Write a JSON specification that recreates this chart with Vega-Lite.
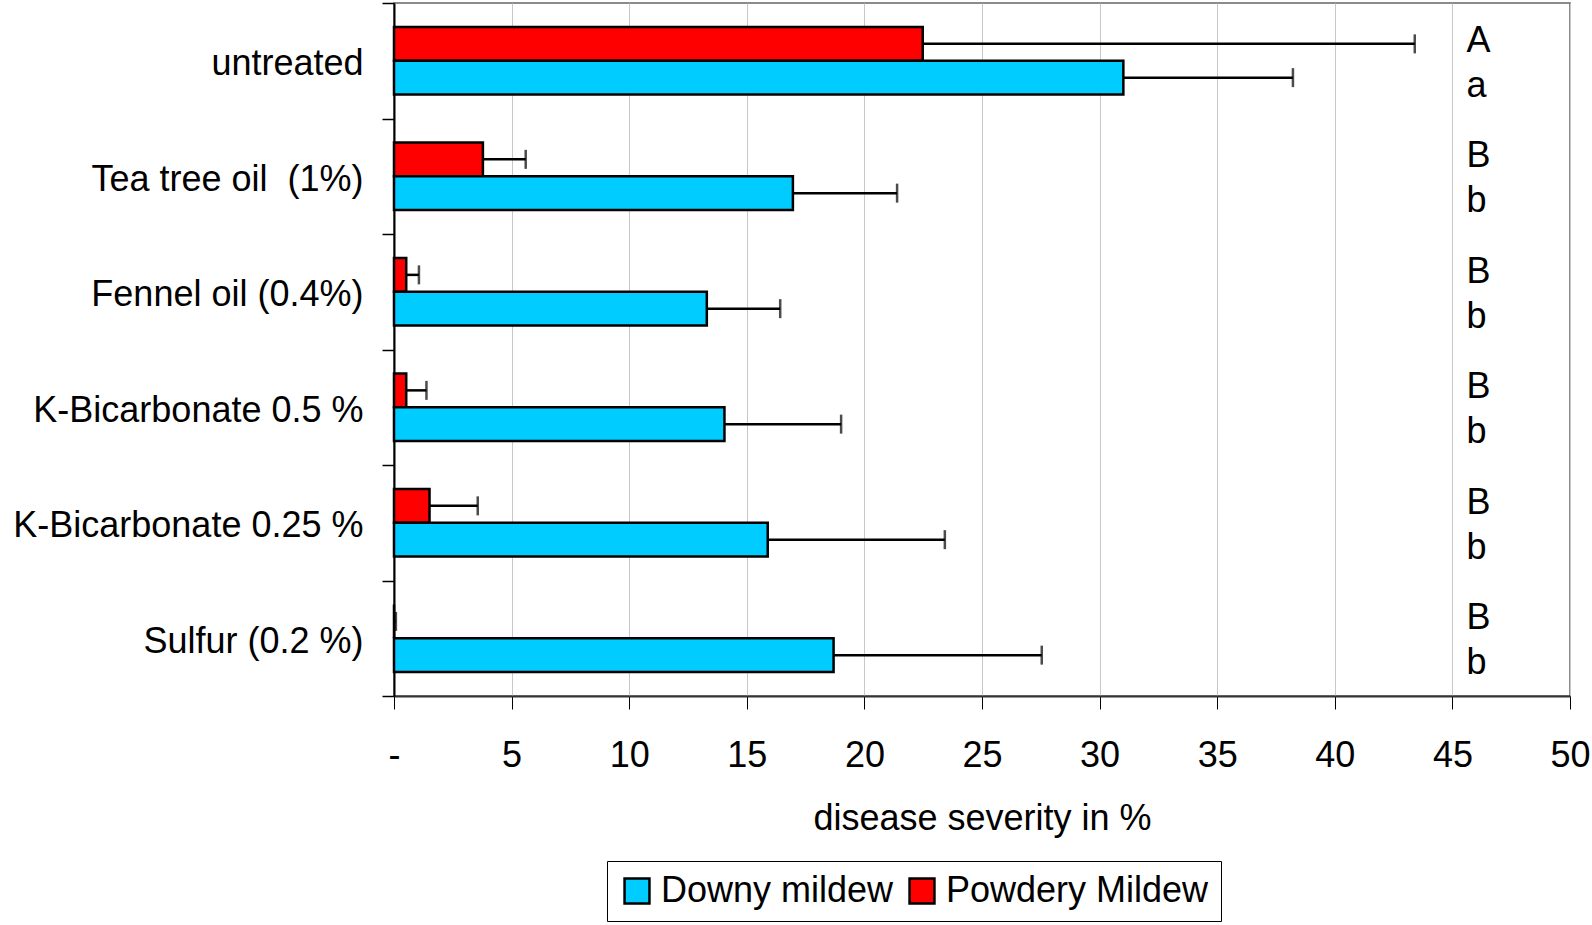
{
  "$schema": "https://vega.github.io/schema/vega-lite/v6.json",
  "width": 1176,
  "height": 693,
  "autosize": {"type": "none"},
  "padding": {"left": 394, "top": 3, "right": 22, "bottom": 229},
  "config": {
    "font": "Liberation Sans",
    "view": {"stroke": "#666", "strokeWidth": 1.5}
  },
  "datasets": {
    "bars": [
      {"treatment": "untreated", "disease": "Powdery Mildew", "severity": 22.48, "upper": 43.4},
      {"treatment": "untreated", "disease": "Downy mildew", "severity": 31.01, "upper": 38.22},
      {"treatment": "Tea tree oil \u00a0(1%)", "disease": "Powdery Mildew", "severity": 3.78, "upper": 5.6},
      {"treatment": "Tea tree oil \u00a0(1%)", "disease": "Downy mildew", "severity": 16.96, "upper": 21.39},
      {"treatment": "Fennel oil (0.4%)", "disease": "Powdery Mildew", "severity": 0.52, "upper": 1.06},
      {"treatment": "Fennel oil (0.4%)", "disease": "Downy mildew", "severity": 13.3, "upper": 16.42},
      {"treatment": "K-Bicarbonate 0.5 %", "disease": "Powdery Mildew", "severity": 0.52, "upper": 1.38},
      {"treatment": "K-Bicarbonate 0.5 %", "disease": "Downy mildew", "severity": 14.05, "upper": 19.01},
      {"treatment": "K-Bicarbonate 0.25 %", "disease": "Powdery Mildew", "severity": 1.51, "upper": 3.56},
      {"treatment": "K-Bicarbonate 0.25 %", "disease": "Downy mildew", "severity": 15.89, "upper": 23.42},
      {"treatment": "Sulfur (0.2 %)", "disease": "Powdery Mildew", "severity": 0, "upper": 0.08},
      {"treatment": "Sulfur (0.2 %)", "disease": "Downy mildew", "severity": 18.69, "upper": 27.54}
    ],
    "letters": [
      {"treatment": "untreated", "letters": ["A", "a"]},
      {"treatment": "Tea tree oil \u00a0(1%)", "letters": ["B", "b"]},
      {"treatment": "Fennel oil (0.4%)", "letters": ["B", "b"]},
      {"treatment": "K-Bicarbonate 0.5 %", "letters": ["B", "b"]},
      {"treatment": "K-Bicarbonate 0.25 %", "letters": ["B", "b"]},
      {"treatment": "Sulfur (0.2 %)", "letters": ["B", "b"]}
    ]
  },
  "encoding": {
    "y": {
      "field": "treatment",
      "type": "nominal",
      "sort": ["untreated", "Tea tree oil \u00a0(1%)", "Fennel oil (0.4%)", "K-Bicarbonate 0.5 %", "K-Bicarbonate 0.25 %", "Sulfur (0.2 %)"],
      "scale": {"paddingInner": 0, "paddingOuter": 0},
      "axis": {
        "title": null,
        "tickBand": "extent",
        "tickSize": 12,
        "tickColor": "#000",
        "tickWidth": 1.5,
        "domainColor": "#000",
        "domainWidth": 2,
        "labelFontSize": 36,
        "labelColor": "#000",
        "labelPadding": 19,
        "labelOffset": 3,
        "labelLimit": 0,
        "grid": false
      }
    }
  },
  "layer": [
    {
      "data": {"name": "bars"},
      "mark": {"type": "bar", "stroke": "#000", "strokeWidth": 2.5},
      "encoding": {
        "x": {
          "field": "severity",
          "type": "quantitative",
          "scale": {"domain": [0, 50], "nice": false, "zero": true},
          "axis": {
            "values": [0, 5, 10, 15, 20, 25, 30, 35, 40, 45, 50],
            "labelExpr": "datum.value == 0 ? '-' : datum.label",
            "grid": true,
            "gridColor": "#c8c8c8",
            "gridWidth": 1,
            "tickSize": 13,
            "tickColor": "#000",
            "tickWidth": 1,
            "domainColor": "#333",
            "domainWidth": 2,
            "labelFontSize": 36,
            "labelColor": "#000",
            "labelPadding": 29,
            "labelFlush": false,
            "labelOverlap": false,
            "title": "disease severity in %",
            "titleFontSize": 36,
            "titleFontWeight": "normal",
            "titleColor": "#000",
            "titleBaseline": "top",
            "titleY": 105
          }
        },
        "yOffset": {
          "field": "disease",
          "type": "nominal",
          "sort": ["Powdery Mildew", "Downy mildew"],
          "scale": {"paddingInner": 0, "paddingOuter": 0.71}
        },
        "color": {
          "field": "disease",
          "type": "nominal",
          "scale": {"domain": ["Downy mildew", "Powdery Mildew"], "range": ["#00CCFF", "#FF0000"]},
          "legend": {
            "orient": "none",
            "legendX": 213,
            "legendY": 858,
            "direction": "horizontal",
            "title": null,
            "strokeColor": "#000",
            "fillColor": "#fff",
            "padding": 12,
            "labelFontSize": 36,
            "labelColor": "#000",
            "labelLimit": 0,
            "labelOffset": 6,
            "columnPadding": 10,
            "symbolType": "square",
            "symbolSize": 620,
            "symbolStrokeColor": "#000",
            "symbolStrokeWidth": 2.5,
            "symbolOpacity": 1
          }
        }
      }
    },
    {
      "data": {"name": "bars"},
      "mark": {"type": "rule", "color": "#000", "strokeWidth": 2.5},
      "encoding": {
        "x": {"field": "severity", "type": "quantitative"},
        "x2": {"field": "upper"},
        "yOffset": {"field": "disease", "type": "nominal", "sort": ["Powdery Mildew", "Downy mildew"]}
      }
    },
    {
      "data": {"name": "bars"},
      "mark": {"type": "tick", "orient": "vertical", "color": "#000", "thickness": 2.5, "size": 19},
      "encoding": {
        "x": {"field": "upper", "type": "quantitative"},
        "yOffset": {"field": "disease", "type": "nominal", "sort": ["Powdery Mildew", "Downy mildew"]}
      }
    },
    {
      "data": {"name": "letters"},
      "mark": {"type": "text", "fontSize": 36, "color": "#000", "align": "left", "baseline": "middle", "lineHeight": 45, "dy": -20},
      "encoding": {
        "x": {"datum": 45.6, "type": "quantitative"},
        "text": {"field": "letters"}
      }
    }
  ]
}
